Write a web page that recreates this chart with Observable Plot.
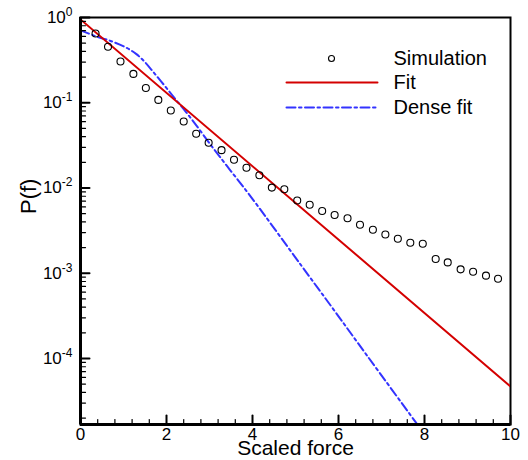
<!DOCTYPE html>
<html><head><meta charset="utf-8">
<script src="https://cdn.jsdelivr.net/npm/d3@7"></script>
<script src="https://cdn.jsdelivr.net/npm/@observablehq/plot@0.6"></script>
<style>body{margin:0;background:#fff} #chart{width:528px;height:460px}</style>
</head><body><div id="chart"></div>
<script>
// ---- data ----
const simForce = [0.35,0.64,0.93,1.23,1.52,1.81,2.10,2.40,2.69,2.98,3.28,3.57,3.86,4.16,4.45,4.74,5.04,5.33,5.62,5.91,6.21,6.50,6.80,7.09,7.38,7.67,7.96,8.26,8.54,8.84,9.13,9.43,9.71];
const simProb = [0.649,0.454,0.305,0.218,0.149,0.108,0.0811,0.0603,0.0432,0.0340,0.0278,0.0214,0.0173,0.0141,0.0101,0.00966,0.00713,0.00637,0.00537,0.00482,0.00441,0.00370,0.00323,0.00285,0.00254,0.00228,0.00222,0.00147,0.00134,0.00111,0.00104,0.000936,0.000861];
const fitForce = [0, 10];
const fitProb = [0.95, 4.7e-5];
const denseForce = [0,0.42,0.70,1.05,1.30,1.51,1.71,1.94,2.17,2.40,2.64,3.02,3.41,3.95,5.12,5.89,6.67,7.79,8.2];
const denseProb = [0.705,0.587,0.531,0.447,0.372,0.295,0.224,0.162,0.116,0.0841,0.0589,0.0324,0.0180,0.00804,0.00126,0.000372,0.000107,0.0000180,0.0000093];
const xDomain = [0, 10];
const yDomain = [1.68e-5, 1];
const xTicks = [0, 2, 4, 6, 8, 10];
const yTicks = [1, 0.1, 0.01, 0.001, 0.0001];
const yTickLabels = ["10^0", "10^-1", "10^-2", "10^-3", "10^-4"];
const legendLabels = ["Simulation", "Fit", "Dense fit"];
const xTitle = "Scaled force";
const yTitle = "P(f)";

// ---- derived tables ----
const sim = simForce.map((f, i) => ({f, p: simProb[i]}));
const fit = fitForce.map((f, i) => ({f, p: fitProb[i]}));
const dense = denseForce.map((f, i) => ({f, p: denseProb[i]}));
const xMinor = d3.range(1, 26).map(k => +(k * 0.4).toFixed(2)).filter(v => Math.abs(v / 2 - Math.round(v / 2)) > 1e-6);
const yMinor = [];
for (let e = -5; e <= -1; e++) for (let k = 2; k <= 9; k++) { const v = k * Math.pow(10, e); if (v >= yDomain[0] && v <= yDomain[1]) yMinor.push(v); }
const yLabelMap = new Map(yTicks.map((v, i) => [v, yTickLabels[i]]));

const RED = "#d40000", BLUE = "#3333ff", DASH = "9,3.5,2.5,3.5";
const tickShape = {draw(context, l) { context.moveTo(0, 0); context.lineTo(0, -l); }};
const FONT = "'Liberation Sans', Arial, Helvetica, sans-serif";

const svg = Plot.plot({
  width: 528, height: 460,
  marginLeft: 80, marginRight: 18, marginTop: 17, marginBottom: 36,
  style: {fontFamily: FONT, background: "white", color: "black"},
  x: {domain: xDomain},
  y: {type: "log", domain: yDomain},
  marks: [
    Plot.frame({stroke: "black", strokeWidth: 2}),
    Plot.line(dense, {x: "f", y: "p", stroke: BLUE, strokeWidth: 2, strokeDasharray: DASH, curve: "catmull-rom", clip: true}),
    Plot.line(fit, {x: "f", y: "p", stroke: RED, strokeWidth: 2, clip: true}),
    Plot.dot(sim, {x: "f", y: "p", r: 3.5, stroke: "black", strokeWidth: 1.1, fill: "none"}),
    Plot.ruleX([xDomain[0]], {stroke: "black", strokeWidth: 3}),
    Plot.ruleY([yDomain[0]], {stroke: "black", strokeWidth: 3}),
    // inward ticks
    Plot.vector(xTicks, {x: d => d, frameAnchor: "bottom", length: 9, rotate: 0, anchor: "start", shape: tickShape, stroke: "black", strokeWidth: 2}),
    Plot.vector(xMinor, {x: d => d, frameAnchor: "bottom", length: 5, rotate: 0, anchor: "start", shape: tickShape, stroke: "black", strokeWidth: 1.2}),
    Plot.vector(yTicks, {y: d => d, frameAnchor: "left", length: 9, rotate: 90, anchor: "start", shape: tickShape, stroke: "black", strokeWidth: 2}),
    Plot.vector(yMinor, {y: d => d, frameAnchor: "left", length: 5, rotate: 90, anchor: "start", shape: tickShape, stroke: "black", strokeWidth: 1.2}),
    // tick labels
    Plot.axisX(xTicks, {tickSize: 0, tickPadding: 3, fontSize: 17, label: null}),
    Plot.axisY(yTicks, {tickSize: 0, tickPadding: 8, fontSize: 17, label: null, tickFormat: d => yLabelMap.get(d)}),
    // axis titles
    Plot.text([xTitle], {frameAnchor: "bottom", dy: 24, lineAnchor: "middle", fontSize: 21}),
    Plot.text([yTitle], {frameAnchor: "left", dx: -52, dy: -7, rotate: -90, fontSize: 22}),
    // legend
    Plot.dot([legendLabels[0]], {frameAnchor: "top-left", dx: 251, dy: 41, r: 3, stroke: "black", strokeWidth: 1.1, fill: "none"}),
    Plot.vector([legendLabels[1]], {frameAnchor: "top-left", dx: 206, dy: 65, rotate: 90, length: 91, anchor: "start", shape: tickShape, stroke: RED, strokeWidth: 2}),
    Plot.vector([legendLabels[2]], {frameAnchor: "top-left", dx: 206, dy: 90, rotate: 90, length: 91, anchor: "start", shape: tickShape, stroke: BLUE, strokeWidth: 2, strokeDasharray: DASH}),
    Plot.text([legendLabels[0]], {frameAnchor: "top-left", dx: 313, dy: 41, lineAnchor: "middle", fontSize: 20, textAnchor: "start", text: d => d}),
    Plot.text([legendLabels[1]], {frameAnchor: "top-left", dx: 313, dy: 65, lineAnchor: "middle", fontSize: 20, textAnchor: "start", text: d => d}),
    Plot.text([legendLabels[2]], {frameAnchor: "top-left", dx: 313, dy: 90, lineAnchor: "middle", fontSize: 20, textAnchor: "start", text: d => d})
  ]
});

// superscript exponents in the y tick labels
svg.querySelectorAll("text").forEach(t => {
  const m = /^10\^(.+)$/.exec(t.textContent);
  if (!m) return;
  while (t.firstChild) t.removeChild(t.firstChild);
  t.appendChild(document.createTextNode("10"));
  const sup = document.createElementNS("http://www.w3.org/2000/svg", "tspan");
  sup.setAttribute("dy", "-7");
  sup.setAttribute("font-size", "12");
  sup.textContent = m[1];
  t.appendChild(sup);
});

document.getElementById("chart").appendChild(svg);
</script>
</body></html>
